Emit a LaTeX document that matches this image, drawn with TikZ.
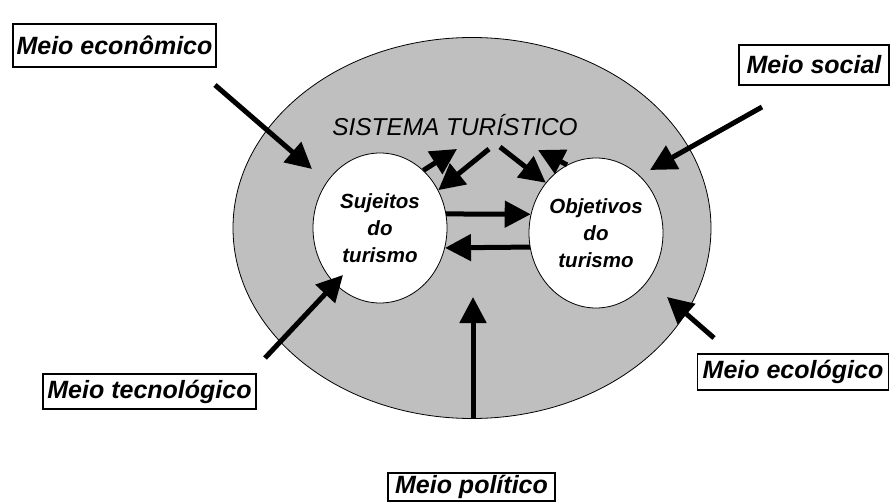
\documentclass[tikz,border=0pt]{standalone}
\usepackage{fontspec}
\setmainfont{Liberation Sans}
\usetikzlibrary{arrows.meta,shapes.geometric}

\tikzset{
  meio/.style={draw, line width=1.2pt, inner sep=0pt, fill=white,
    font=\fontsize{25}{25}\selectfont\bfseries\itshape},
  polo/.style={ellipse, draw, fill=white, line width=0.8pt, inner sep=0pt,
    align=center, minimum width=134pt, minimum height=150pt,
    font=\fontsize{20.5}{27}\selectfont\bfseries\itshape},
  seta/.style={line width=5pt, -{Triangle[length=26pt,width=26pt]}}
}

\begin{document}
\begin{tikzpicture}[x=1pt,y=-1pt]
  \useasboundingbox (0,0) rectangle (890,502);

  % Sistema turistico
  \node[ellipse, draw, fill=black!25, line width=0.8pt, inner sep=0pt,
    minimum width=478pt, minimum height=381pt] (sistema) at (472,228) {};
  \node[font=\fontsize{24.4}{24.4}\selectfont\itshape] (titulo) at (455,125) {SISTEMA TURÍSTICO};

  % Sujeitos e objetivos
  \node[polo] (sujeitos) at (380,228) {Sujeitos\\do\\turismo};
  \node[polo] (objetivos) at (596,233) {Objetivos\\do\\turismo};

  % Meios
  \node[meio, minimum width=203pt, minimum height=43pt] (economico) at (114.5,45.5) {Meio econômico};
  \node[meio, minimum width=150pt, minimum height=40pt] (social) at (814,65) {Meio social};
  \node[meio, minimum width=213pt, minimum height=35pt] (tecnologico) at (149.5,391.5) {Meio tecnológico};
  \node[meio, minimum width=191pt, minimum height=36pt] (ecologico) at (793,372) {Meio ecológico};
  \node[meio, minimum width=167pt, minimum height=28pt] (politico) at (471.5,487) {Meio político};

  % Pontas livres
  \coordinate (economico-a) at (215,85);   \coordinate (economico-b) at (312,169);
  \coordinate (social-a) at (762,107);     \coordinate (social-b) at (650,170);
  \coordinate (tecnologico-a) at (265,358); \coordinate (tecnologico-b) at (343,275);
  \coordinate (ecologico-a) at (714,338);  \coordinate (ecologico-b) at (667,297);
  \coordinate (politico-a) at (473,419);   \coordinate (politico-b) at (473,297);
  \coordinate (titulo-a) at (457,149);     \coordinate (titulo-b) at (489,149);
  \coordinate (titulo-c) at (500,147);     \coordinate (titulo-d) at (538,150);

  % Setas
  \draw[seta] (economico-a) -- (economico-b);
  \draw[seta] (social-a) -- (social-b);
  \draw[seta] (tecnologico-a) -- (tecnologico-b);
  \draw[seta] (ecologico-a) -- (ecologico-b);
  \draw[seta] (politico-a) -- (politico-b);
  \draw[seta] (sujeitos.12) -- (objetivos.164);
  \draw[seta] (objetivos.192) -- (sujeitos.-17);
  \draw[seta] (sujeitos.53) -- (titulo-a);
  \draw[seta] (titulo-b) -- (sujeitos.33);
  \draw[seta] (titulo-c) -- (objetivos.135);
  \draw[seta] (objetivos.113) -- (titulo-d);
\end{tikzpicture}
\end{document}
